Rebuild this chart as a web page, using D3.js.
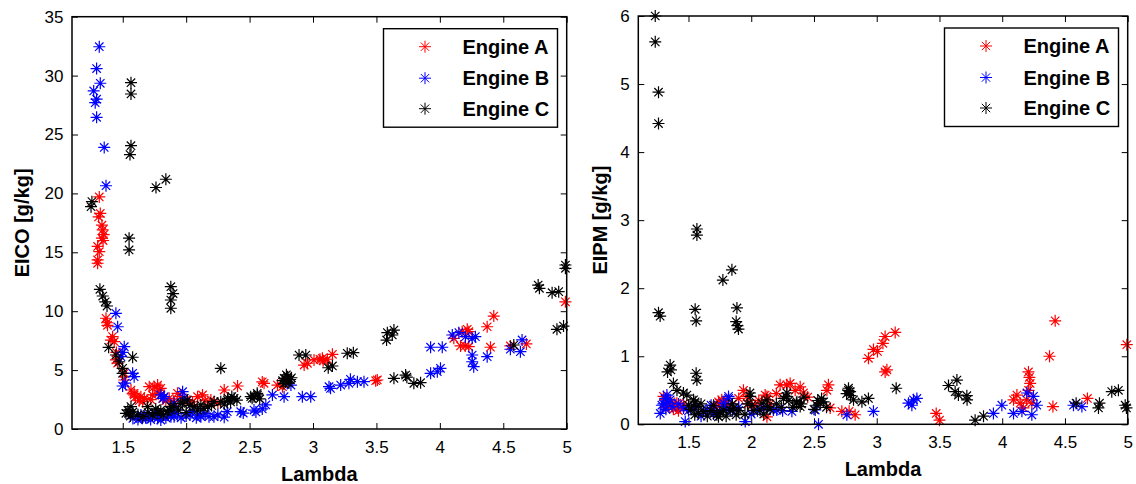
<!DOCTYPE html>
<html>
<head>
<meta charset="utf-8">
<script src="https://cdn.jsdelivr.net/npm/d3@7"></script>
<style>
  html, body { margin: 0; padding: 0; background: #fff; }
  svg { display: block; }
  text { font-family: "Liberation Sans", Arial, Helvetica, sans-serif; fill: #000; }
</style>
</head>
<body>
<svg id="chart" width="1136" height="484"></svg>
<script>
// Engine series names and colours
const engines = ["Engine A", "Engine B", "Engine C"];
const engineColors = ["#ff0000", "#0000ff", "#000000"];

// Axis ticks
const lambdaTicks = [1.5, 2, 2.5, 3, 3.5, 4, 4.5, 5];
const eicoTicks = [0, 5, 10, 15, 20, 25, 30, 35];
const eipmTicks = [0, 1, 2, 3, 4, 5, 6];

// EICO [g/kg] vs lambda, pairs of [lambda, EICO]
const eicoA = [
  [1.315,19.7],[1.323,18.3],[1.31,18.0],[1.336,17.3],[1.342,16.9],[1.35,16.5],[1.336,16.2],[1.345,16.0],
  [1.302,15.5],[1.315,15.05],[1.302,14.35],[1.302,14.07],
  [1.368,9.4],[1.376,9.02],[1.38,8.8],[1.407,7.55],[1.42,7.84],[1.433,7.41],[1.45,6.5],[1.446,5.86],[1.46,5.6],
  [1.512,4.73],[1.512,4.16],[1.565,3.31],[1.59,3.03],[1.59,2.89],[1.6,2.7],[1.63,2.4],[1.643,2.74],[1.657,2.32],
  [1.67,2.6],[1.72,2.5],[1.709,3.59],[1.748,3.59],[1.775,3.73],[1.78,3.0],[1.8,3.45],[1.788,3.31],[1.735,2.89],
  [1.814,2.6],[1.84,2.4],[1.866,2.6],[1.9,2.35],[1.932,3.03],[1.958,2.74],[2.0,2.5],[2.05,2.3],[2.09,2.74],
  [2.129,2.89],[2.15,2.4],[2.195,2.46],[2.25,2.2],[2.3,3.31],[2.405,3.65],[2.614,3.88],
  [2.6,4.0],[2.72,3.73],[2.759,3.59],[2.93,5.43],[2.956,5.58],[3.008,5.86],[3.055,5.92],[3.074,6.0],
  [3.08,5.8],[3.113,5.92],[3.153,6.34],[3.494,4.1],[3.507,4.16],[4.11,7.7],[4.163,7.05],[4.2,7.05],
  [4.228,6.99],[4.216,8.46],[4.228,8.26],[4.176,8.26],[4.373,8.68],[4.425,9.59],[4.399,6.94],[4.556,7.05],
  [4.682,7.22],[4.99,10.8]
];
const eicoB = [
  [1.315,32.45],[1.294,30.6],[1.323,29.35],[1.271,28.7],[1.294,28.0],[1.283,27.7],[1.294,26.46],[1.354,23.9],[1.368,20.65],
  [1.446,9.82],[1.46,8.68],[1.512,6.99],[1.5,6.5],[1.486,6.14],[1.578,4.73],[1.59,4.44],[1.499,3.65],[1.52,3.9],
  [1.58,0.9],[1.62,0.8],[1.643,1.19],[1.643,1.04],[1.655,0.91],[1.68,0.95],[1.7,1.0],[1.72,0.8],[1.775,0.91],
  [1.78,1.1],[1.8,0.76],[1.75,1.3],[1.8,2.89],[1.827,2.74],[1.82,2.6],[1.84,0.95],[1.86,1.25],[1.88,1.04],
  [1.905,1.04],[1.905,2.18],[1.9,1.5],[1.93,1.33],[1.96,0.95],[1.972,3.17],[1.985,2.6],[2.0,1.1],[2.03,1.19],
  [2.05,1.5],[2.08,0.95],[2.11,1.19],[2.116,1.04],[2.15,1.3],[2.18,1.05],[2.219,1.04],[2.25,1.2],[2.3,1.0],
  [2.324,1.47],[2.43,1.47],[2.45,1.35],[2.535,1.61],[2.55,1.45],[2.6,1.7],
  [2.628,2.04],[2.68,2.89],[2.772,2.74],[2.826,3.73],[2.916,2.74],[2.982,2.74],[3.126,3.59],[3.138,3.45],
  [3.218,3.73],[3.283,3.88],[3.295,4.22],[3.35,4.02],[3.402,4.02],[3.927,4.73],[3.98,4.86],[4.005,5.15],
  [3.927,6.94],[4.019,6.94],[4.098,7.98],[4.15,8.18],[4.202,7.84],[4.255,7.7],[4.28,7.84],[4.255,6.28],
  [4.255,5.71],[4.267,5.29],[4.373,6.14],[4.556,6.77],[4.635,6.56],[4.648,7.56]
];
const eicoC = [
  [1.257,19.3],[1.25,18.87],[1.565,29.4],[1.565,28.44],[1.565,24.05],[1.557,23.3],[1.762,20.5],[1.84,21.2],
  [1.55,16.2],[1.55,15.2],[1.879,12.08],[1.897,11.5],[1.879,10.95],[1.879,10.25],
  [1.32,11.86],[1.342,11.29],[1.362,10.8],[1.376,10.44],[1.389,6.93],[1.446,6.28],[1.472,5.71],[1.499,5.15],
  [1.499,4.73],[1.578,6.09],[1.546,1.33],[1.565,1.9],[1.525,1.33],[1.54,1.6],
  [1.56,1.1],[1.58,1.45],[1.62,1.2],[1.66,1.05],[1.7,1.4],[1.76,1.7],[1.82,1.2],[1.88,1.9],[1.94,1.6],
  [2.0,1.4],[2.03,2.0],[2.09,1.6],[2.14,1.75],[2.2,2.0],[2.3,2.1],[2.35,2.3],[2.4,2.45],[2.52,2.6],
  [2.58,2.55],[2.36,2.75],
  [1.735,1.19],[1.696,1.9],[1.775,1.33],[1.853,1.47],[1.866,1.61],[1.8,1.6],[1.905,1.9],[1.958,2.18],
  [1.972,2.18],[2.01,2.46],[2.063,1.9],[2.116,2.04],[2.17,1.9],[2.22,2.32],[2.273,2.32],[2.326,2.46],
  [2.33,2.6],[2.378,2.6],[2.509,2.74],[2.535,2.74],[2.562,2.89],[2.56,3.03],[2.772,4.3],[2.8,4.44],
  [2.785,4.0],[2.82,4.2],[2.76,4.1],[2.79,4.6],[2.81,3.9],[2.83,4.35],[2.77,3.85],[2.273,5.15],
  [2.89,6.28],[2.943,6.28],[3.12,5.2],[3.153,5.35],[3.27,6.43],[3.318,6.48],[3.58,7.55],[3.586,8.18],
  [3.638,8.4],[3.625,7.98],[3.638,4.3],[3.73,4.58],[3.74,4.4],[3.795,3.88],[3.848,3.93],[4.583,7.13],
  [4.775,12.22],[4.785,11.94],[4.885,11.57],[4.937,11.66],[4.99,13.64],[4.99,13.92],[4.923,8.46],[4.975,8.74]
];

// EIPM [g/kg] vs lambda, pairs of [lambda, EIPM]
const eipmA = [
  [1.301,0.41],[1.314,0.36],[1.32,0.25],[1.34,0.3],[1.36,0.33],[1.368,0.28],[1.38,0.22],[1.407,0.31],
  [1.408,0.24],[1.42,0.2],[1.434,0.24],[1.46,0.3],[1.72,0.25],[1.739,0.33],[1.75,0.31],[1.765,0.36],
  [1.8,0.35],[1.819,0.28],[1.9,0.38],[1.938,0.5],[1.965,0.41],[1.98,0.3],[2.03,0.28],[2.06,0.35],
  [2.111,0.43],[2.125,0.41],[2.15,0.3],[2.2,0.45],[2.125,0.11],[2.23,0.58],[2.284,0.58],[2.31,0.6],
  [2.35,0.5],[2.39,0.55],[2.416,0.46],[2.45,0.4],[2.615,0.58],[2.603,0.5],
  [2.629,0.24],[2.722,0.19],[2.78,0.19],[2.828,0.14],[2.934,0.97],[2.974,1.1],[3.006,1.07],[3.049,1.19],
  [3.067,1.29],[3.147,1.35],[3.067,0.77],[3.081,0.8],[3.474,0.16],[3.5,0.06],[4.09,0.36],[4.117,0.43],
  [4.143,0.31],[4.169,0.24],[4.195,0.36],[4.209,0.77],[4.217,0.69],[4.223,0.6],[4.236,0.31],[4.21,0.5],
  [4.377,1.0],[4.422,1.52],[4.404,0.26],[4.679,0.38],[4.993,1.17]
];
const eipmB = [
  [1.275,0.16],[1.288,0.28],[1.3,0.3],[1.314,0.38],[1.32,0.22],[1.328,0.43],[1.354,0.36],[1.335,0.32],
  [1.37,0.26],[1.42,0.3],[1.46,0.24],[1.474,0.04],[1.5,0.2],[1.55,0.25],[1.6,0.12],
  [1.633,0.19],[1.647,0.21],[1.68,0.28],[1.7,0.15],[1.72,0.18],[1.779,0.31],[1.779,0.26],[1.819,0.38],
  [1.819,0.41],[1.8,0.22],[1.85,0.2],[1.9,0.25],[1.952,0.04],[2.0,0.15],[2.05,0.2],[2.1,0.24],[2.177,0.21],
  [2.204,0.21],[2.25,0.2],[2.324,0.19],[2.51,0.21],[2.536,0.0],[2.762,0.14],
  [2.974,0.19],[3.253,0.31],[3.293,0.36],[3.32,0.38],[3.28,0.28],[3.93,0.16],[3.997,0.28],[4.09,0.16],
  [4.157,0.19],[4.197,0.46],[4.249,0.41],[4.276,0.28],[4.236,0.14],[4.568,0.28],[4.635,0.26]
];
const eipmC = [
  [1.235,6.0],[1.235,5.62],[1.261,4.88],[1.261,4.42],[1.567,2.87],[1.567,2.78],[1.261,1.64],[1.274,1.59],
  [1.553,1.69],[1.561,1.52],[1.774,2.12],[1.846,2.27],[1.886,1.71],[1.88,1.51],[1.89,1.45],[1.898,1.4],
  [1.354,0.87],[1.333,0.77],[1.36,0.8],[1.561,0.75],[1.567,0.65],[1.38,0.6],[1.408,0.5],[1.46,0.46],
  [1.487,0.43],[1.553,0.33],[1.54,0.36],[1.567,0.26],[1.55,0.14],[1.62,0.19],[1.726,0.14],[1.739,0.11],
  [1.5,0.28],[1.52,0.22],[1.58,0.16],[1.6,0.3],[1.65,0.12],[1.68,0.2],[1.7,0.28],[1.75,0.18],[1.8,0.12],
  [1.85,0.3],[1.9,0.2],[1.95,0.15],[1.97,0.3],[2.02,0.2],[2.1,0.15],[2.15,0.22],[2.2,0.3],[2.24,0.25],
  [2.3,0.35],[2.33,0.25],[2.4,0.3],[2.42,0.4],[2.5,0.22],[2.53,0.35],[2.6,0.25],[2.79,0.42],[2.76,0.45],
  [1.779,0.21],[1.832,0.21],[1.86,0.24],[1.88,0.14],[1.99,0.46],[1.992,0.41],[2.005,0.28],[2.07,0.21],
  [2.085,0.31],[2.125,0.36],[2.13,0.26],[2.257,0.38],[2.28,0.41],[2.284,0.46],[2.36,0.31],[2.364,0.33],
  [2.39,0.26],[2.523,0.28],[2.55,0.31],[2.576,0.33],[2.56,0.38],[2.775,0.53],[2.788,0.48],[2.775,0.5],
  [2.815,0.36],[2.882,0.33],[2.934,0.38],[3.155,0.53],[3.572,0.57],[3.639,0.65],[3.625,0.48],[3.651,0.43],
  [3.718,0.42],[3.72,0.36],[3.784,0.06],[3.851,0.12],[4.589,0.31],[4.775,0.31],[4.767,0.24],[4.873,0.48],
  [4.926,0.5],[4.98,0.28],[4.99,0.24]
];

const svg = d3.select("#chart");

// MATLAB-style '*' marker: a plus sign overlaid with a cross
const arm = 6, diag = 4.2;
const starPath = `M${-arm},0H${arm}M0,${-arm}V${arm}` +
  `M${-diag},${-diag}L${diag},${diag}M${-diag},${diag}L${diag},${-diag}`;

function drawPanel(opts) {
  const { left, right, top, bottom, yDomain, yTicks, yLabel, yLabelX, series } = opts;
  const x = d3.scaleLinear().domain([1.1, 5]).range([left, right]);
  const y = d3.scaleLinear().domain(yDomain).range([bottom, top]);
  const g = svg.append("g");

  // tick marks pointing inward on all four sides
  const tickLen = 6;
  const bottomAxis = g.append("g").attr("transform", `translate(0,${bottom})`)
    .call(d3.axisBottom(x).tickValues(lambdaTicks).tickSizeInner(-tickLen).tickSizeOuter(0)
      .tickPadding(12).tickFormat(d3.format("")));
  const topAxis = g.append("g").attr("transform", `translate(0,${top})`)
    .call(d3.axisTop(x).tickValues(lambdaTicks).tickSizeInner(-tickLen).tickSizeOuter(0).tickFormat(""));
  const leftAxis = g.append("g").attr("transform", `translate(${left},0)`)
    .call(d3.axisLeft(y).tickValues(yTicks).tickSizeInner(-tickLen).tickSizeOuter(0)
      .tickPadding(8.5).tickFormat(d3.format("")));
  const rightAxis = g.append("g").attr("transform", `translate(${right},0)`)
    .call(d3.axisRight(y).tickValues(yTicks).tickSizeInner(-tickLen).tickSizeOuter(0).tickFormat(""));

  [bottomAxis, topAxis, leftAxis, rightAxis].forEach(a => {
    a.select(".domain").remove();
    a.selectAll(".tick line").attr("stroke", "#000").attr("stroke-width", 1);
    a.selectAll("text").attr("font-size", 17)
      .attr("font-family", "'Liberation Sans', Arial, sans-serif").attr("fill", "#000");
  });

  // markers, drawn in series order so later engines sit on top
  series.forEach((data, i) => {
    g.append("g").selectAll("path").data(data).join("path")
      .attr("d", starPath)
      .attr("transform", d => `translate(${x(d[0])},${y(d[1])})`)
      .attr("fill", "none")
      .attr("stroke", engineColors[i])
      .attr("stroke-width", 1.2);
  });

  // axes box
  g.append("rect")
    .attr("x", left).attr("y", top)
    .attr("width", right - left).attr("height", bottom - top)
    .attr("fill", "none").attr("stroke", "#000").attr("stroke-width", 1.5);

  // axis titles
  g.append("text")
    .attr("x", (left + right) / 2).attr("y", bottom + 52)
    .attr("text-anchor", "middle").attr("font-size", 20).attr("font-weight", "bold")
    .text("Lambda");
  g.append("text")
    .attr("transform", `translate(${yLabelX},${(top + bottom) / 2}) rotate(-90)`)
    .attr("text-anchor", "middle").attr("font-size", 20).attr("font-weight", "bold")
    .text(yLabel);

  // legend
  const lw = 174, lh = 98.5;
  const lx = right - 9.2 - lw, ly = top + 12;
  const lg = g.append("g").attr("transform", `translate(${lx},${ly})`);
  lg.append("rect").attr("width", lw).attr("height", lh)
    .attr("fill", "#fff").attr("stroke", "#000").attr("stroke-width", 1.4);
  const rowY = [18, 49.5, 80];
  engines.forEach((name, i) => {
    lg.append("path").attr("d", starPath)
      .attr("transform", `translate(41.5,${rowY[i]})`)
      .attr("fill", "none").attr("stroke", engineColors[i]).attr("stroke-width", 1);
    lg.append("text").attr("x", 79).attr("y", rowY[i] + 7.3)
      .attr("font-size", 20).attr("font-weight", "bold").text(name);
  });
}

drawPanel({
  left: 72, right: 566.7, top: 16.7, bottom: 429,
  yDomain: [0, 35], yTicks: eicoTicks, yLabel: "EICO [g/kg]", yLabelX: 29,
  series: [eicoA, eicoB, eicoC]
});

drawPanel({
  left: 638.3, right: 1127.7, top: 16, bottom: 424.3,
  yDomain: [0, 6], yTicks: eipmTicks, yLabel: "EIPM [g/kg]", yLabelX: 607,
  series: [eipmA, eipmB, eipmC]
});
</script>
</body>
</html>
